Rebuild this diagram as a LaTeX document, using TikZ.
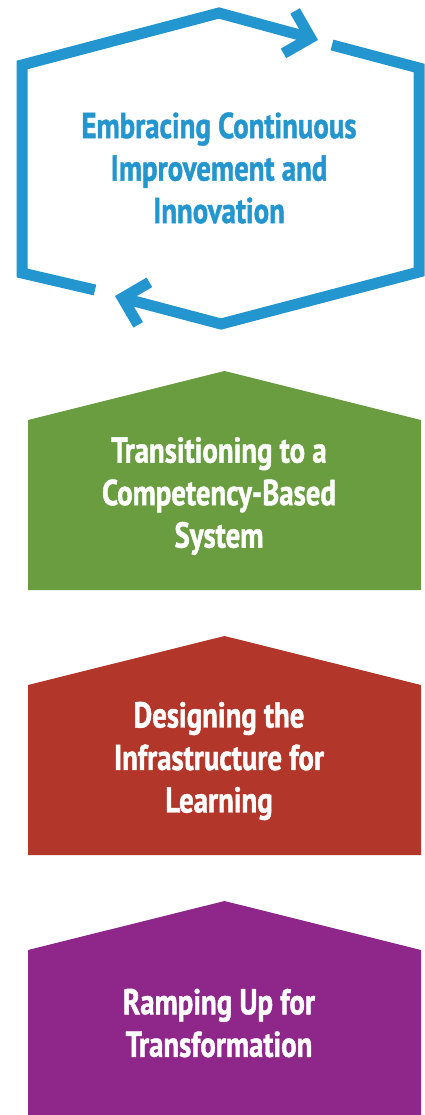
\documentclass[tikz,border=0pt]{standalone}
\usepackage{fontspec}
\setmainfont{PT Sans}[FakeStretch=0.8, BoldFeatures={FakeBold=1.2}]
\usetikzlibrary{arrows.meta}
\definecolor{cycleblue}{HTML}{2395CF}
\definecolor{stepgreen}{HTML}{699D40}
\definecolor{stepred}{HTML}{B2372A}
\definecolor{steppurple}{HTML}{8E2789}

\begin{document}
\begin{tikzpicture}[x=1pt, y=-1pt,
steptext/.style = {align=center, font=\bfseries\fontsize{36}{42.5}\selectfont},
cyclearrow/.style = {draw=cycleblue, line width=11pt, line join=miter,
  -{Straight Barb[length=22pt, width=44pt]}}]
\useasboundingbox (0,0) rectangle (425,1115);
% improvement cycle
\draw[cyclearrow] (332,45) -- (419,68) -- (419,272) -- (221,324) -- (115,296);
\draw[cyclearrow] (95,290) -- (22,273) -- (22,65) -- (219,13) -- (318,40);
\node[steptext, text=cycleblue] (improve) at (219,168)
  {Embracing Continuous\\Improvement and\\Innovation};
% stages
\fill[stepgreen] (28,420) -- (224.5,371) -- (421,420) -- (421,590) -- (28,590) -- cycle;
\node[steptext, text=white] (transition) at (219,496)
  {Transitioning to a\\Competency-Based\\System};
\fill[stepred] (28,685) -- (224.5,636) -- (421,685) -- (421,855) -- (28,855) -- cycle;
\node[steptext, text=white] (design) at (219,761)
  {Designing the\\Infrastructure for\\Learning};
\fill[steppurple] (28,950) -- (224.5,901) -- (421,950) -- (421,1115) -- (28,1115) -- cycle;
\node[steptext, text=white] (rampup) at (219,1023)
  {Ramping Up for\\Transformation};
\end{tikzpicture}
\end{document}
